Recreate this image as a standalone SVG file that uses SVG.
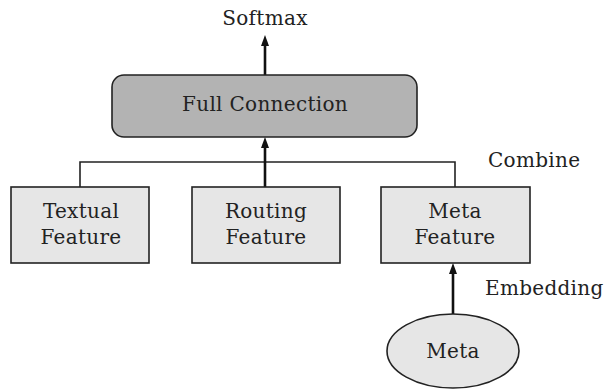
<svg xmlns="http://www.w3.org/2000/svg" width="604" height="390" viewBox="0 0 604 390">
<style>
text{font-family:'DejaVu Serif','Liberation Serif',serif;font-size:20px;fill:#222;letter-spacing:0.3px}
.c{text-anchor:middle}
.box{fill:#e6e6e6;stroke:#222;stroke-width:1.6}
.line{fill:none;stroke:#222;stroke-width:1.6}
.arr{fill:none;stroke:#111;stroke-width:2.6}
.head{fill:#111}
</style>
<rect width="604" height="390" fill="#fff"/>
<g id="connectors">
<path class="line" d="M80,187 V162 H455 V187"/>
<line class="arr" x1="265" y1="187" x2="265" y2="146"/>
<path class="head" d="M265,137 L269,148 L261,148 Z"/>
<line class="arr" x1="265" y1="75" x2="265" y2="44"/>
<path class="head" d="M265,35 L269,46 L261,46 Z"/>
<line class="arr" x1="453" y1="314" x2="453" y2="272"/>
<path class="head" d="M453,263 L457,274 L449,274 Z"/>
</g>
<g id="softmax"><text class="c" x="265" y="25">Softmax</text></g>
<g id="full-connection">
<rect x="112" y="75" width="305" height="62" rx="12" fill="#b3b3b3" stroke="#222" stroke-width="1.6"/>
<text class="c" x="265" y="111">Full Connection</text>
</g>
<g id="combine"><text x="488" y="167">Combine</text></g>
<g id="textual-feature">
<rect class="box" x="11" y="187" width="138" height="76"/>
<text class="c" x="81" y="218">Textual</text>
<text class="c" x="81" y="244">Feature</text>
</g>
<g id="routing-feature">
<rect class="box" x="192" y="187" width="148" height="76"/>
<text class="c" x="266" y="218">Routing</text>
<text class="c" x="266" y="244">Feature</text>
</g>
<g id="meta-feature">
<rect class="box" x="381" y="187" width="149" height="76"/>
<text class="c" x="455" y="218">Meta</text>
<text class="c" x="455" y="244">Feature</text>
</g>
<g id="embedding"><text x="485" y="295">Embedding</text></g>
<g id="meta">
<ellipse class="box" cx="453" cy="351" rx="66" ry="37"/>
<text class="c" x="453" y="358">Meta</text>
</g>
</svg>
